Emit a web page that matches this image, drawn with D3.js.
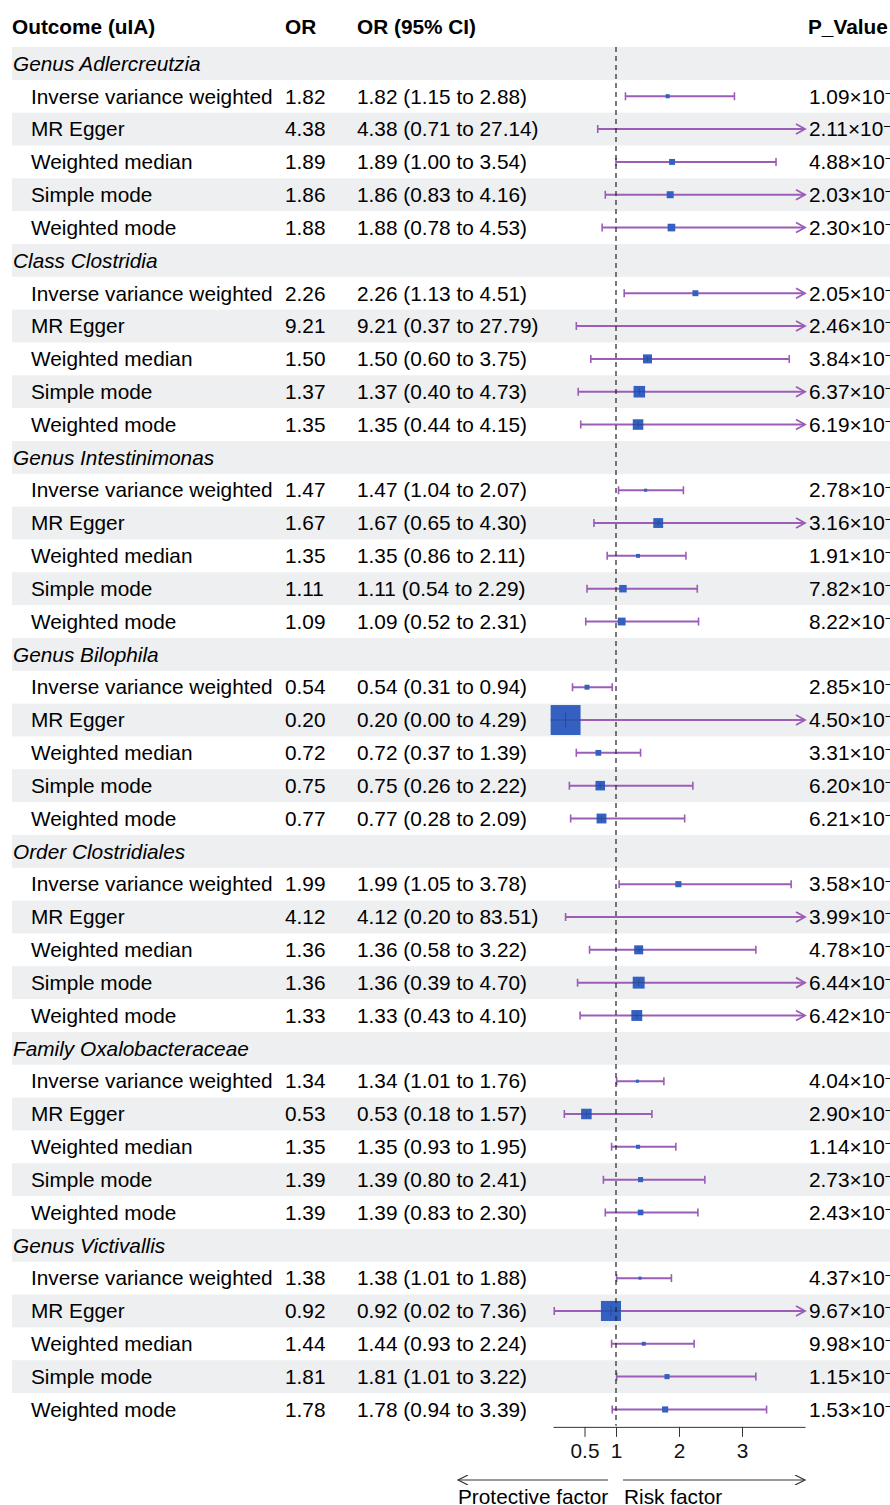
<!DOCTYPE html>
<html>
<head>
<meta charset="utf-8">
<script src="https://cdn.jsdelivr.net/npm/d3@7"></script>
<style>
  body { margin: 0; background: #fff; }
  svg { display: block; font-family: "Liberation Sans", Arial, sans-serif; }
</style>
</head>
<body>
<div id="forest"></div>
<script>
var groups = ["Genus Adlercreutzia", "Class Clostridia", "Genus Intestinimonas", "Genus Bilophila",
              "Order Clostridiales", "Family Oxalobacteraceae", "Genus Victivallis"];
var methods = ["Inverse variance weighted", "MR Egger", "Weighted median", "Simple mode", "Weighted mode"];

// one entry per method row, groups in order
var orEst = [1.82, 4.38, 1.89, 1.86, 1.88,
             2.26, 9.21, 1.50, 1.37, 1.35,
             1.47, 1.67, 1.35, 1.11, 1.09,
             0.54, 0.20, 0.72, 0.75, 0.77,
             1.99, 4.12, 1.36, 1.36, 1.33,
             1.34, 0.53, 1.35, 1.39, 1.39,
             1.38, 0.92, 1.44, 1.81, 1.78];
var ciLow = [1.15, 0.71, 1.00, 0.83, 0.78,
             1.13, 0.37, 0.60, 0.40, 0.44,
             1.04, 0.65, 0.86, 0.54, 0.52,
             0.31, 0.00, 0.37, 0.26, 0.28,
             1.05, 0.20, 0.58, 0.39, 0.43,
             1.01, 0.18, 0.93, 0.80, 0.83,
             1.01, 0.02, 0.93, 1.01, 0.94];
var ciHigh = [2.88, 27.14, 3.54, 4.16, 4.53,
              4.51, 27.79, 3.75, 4.73, 4.15,
              2.07, 4.30, 2.11, 2.29, 2.31,
              0.94, 4.29, 1.39, 2.22, 2.09,
              3.78, 83.51, 3.22, 4.70, 4.10,
              1.76, 1.57, 1.95, 2.41, 2.30,
              1.88, 7.36, 2.24, 3.22, 3.39];
var pMant = ["1.09", "2.11", "4.88", "2.03", "2.30",
             "2.05", "2.46", "3.84", "6.37", "6.19",
             "2.78", "3.16", "1.91", "7.82", "8.22",
             "2.85", "4.50", "3.31", "6.20", "6.21",
             "3.58", "3.99", "4.78", "6.44", "6.42",
             "4.04", "2.90", "1.14", "2.73", "2.43",
             "4.37", "9.67", "9.98", "1.15", "1.53"];
var pExp = [-2, -1, -2, -1, -1,
            -2, -1, -1, -1, -1,
            -2, -1, -1, -1, -1,
            -2, -1, -1, -1, -1,
            -2, -1, -1, -1, -1,
            -2, -1, -1, -1, -1,
            -2, -1, -2, -1, -1];
// standard error estimate, drives box size
var seEst = [0.24, 0.90, 0.35, 0.41, 0.45,
             0.35, 1.20, 0.53, 0.68, 0.62,
             0.18, 0.58, 0.23, 0.44, 0.46,
             0.29, 1.76, 0.34, 0.56, 0.58,
             0.36, 1.50, 0.53, 0.70, 0.64,
             0.18, 0.62, 0.24, 0.30, 0.33,
             0.18, 1.18, 0.23, 0.30, 0.36];
var axisTicks = [0.5, 1, 2, 3];

var W = 890, H = 1505,
    rowH = 32.83,
    top0 = 47,
    fontSize = "20.8px",
    lineCol = "#9b5db6",
    boxCol = "#3461c1",
    shade = "#edeff0";

var rows = [];
groups.forEach(function(g, gi) {
  rows.push({ type: "group", label: g });
  methods.forEach(function(m, mi) {
    rows.push({ type: "item", label: m, k: gi * methods.length + mi });
  });
});

var x = d3.scaleLinear().domain([0, 4]).range([553, 805]);
var y = d3.scaleBand().domain(d3.range(rows.length))
          .range([top0, top0 + rows.length * rowH]);
var box = d3.scaleLinear().domain([0, 1]).range([0, 17]);

var svg = d3.select("#forest").append("svg")
  .attr("width", W)
  .attr("height", H);

var defs = svg.append("defs");
// clip in each row's local coordinates (row centre = 0); only the right side matters
defs.append("clipPath").attr("id", "plotclip")
  .append("rect").attr("x", x(0) - 30).attr("y", -rowH).attr("width", x(4) - x(0) + 30).attr("height", 2 * rowH);

// row shading
svg.selectAll(".band")
  .data(d3.range(rows.length).filter(function(i) { return i % 2 == 0; }))
  .enter().append("rect")
  .attr("x", 12)
  .attr("y", function(i) { return y(i); })
  .attr("width", W - 12)
  .attr("height", y.bandwidth())
  .attr("fill", shade);

// header
var header = svg.append("g").style("font-weight", "bold").style("font-size", fontSize);
header.append("text").attr("x", 12).attr("y", 27).attr("dy", "0.35em").text("Outcome (uIA)");
header.append("text").attr("x", 285).attr("y", 27).attr("dy", "0.35em").text("OR");
header.append("text").attr("x", 357).attr("y", 27).attr("dy", "0.35em").text("OR (95% CI)");
header.append("text").attr("x", 808).attr("y", 27).attr("dy", "0.35em").text("P_Value");

var rowG = svg.selectAll(".row")
  .data(rows)
  .enter().append("g")
  .attr("transform", function(d, i) { return "translate(0," + (y(i) + y.bandwidth() / 2) + ")"; })
  .style("font-size", fontSize);

rowG.filter(function(d) { return d.type == "group"; })
  .append("text")
  .attr("x", 13)
  .attr("dy", "0.35em")
  .style("font-style", "italic")
  .text(function(d) { return d.label; });

var items = rowG.filter(function(d) { return d.type == "item"; });

items.append("text").attr("x", 31).attr("dy", "0.35em").text(function(d) { return d.label; });
items.append("text").attr("x", 285).attr("dy", "0.35em")
  .text(function(d) { return orEst[d.k].toFixed(2); });
items.append("text").attr("x", 357).attr("dy", "0.35em")
  .text(function(d) {
    return orEst[d.k].toFixed(2) + " (" + ciLow[d.k].toFixed(2) + " to " + ciHigh[d.k].toFixed(2) + ")";
  });

var pt = items.append("text").attr("x", 809).attr("dy", "0.35em");
pt.append("tspan").text(function(d) { return pMant[d.k] + "×10"; });
pt.append("tspan").attr("dy", "-0.45em").style("font-size", "13px")
  .text(function(d) { return "\u2212" + Math.abs(pExp[d.k]); });

// CI lines
var marks = items.append("g").attr("clip-path", "url(#plotclip)");
var xmax = x.domain()[1];

marks.append("line")
  .attr("x1", function(d) { return x(Math.max(ciLow[d.k], 0)); })
  .attr("x2", function(d) { return x(Math.min(ciHigh[d.k], xmax)); })
  .attr("stroke", lineCol).attr("stroke-width", 2);

marks.append("line")
  .attr("x1", function(d) { return x(ciLow[d.k]); })
  .attr("x2", function(d) { return x(ciLow[d.k]); })
  .attr("y1", -4).attr("y2", 4)
  .attr("stroke", lineCol).attr("stroke-width", 1.6);

marks.filter(function(d) { return ciHigh[d.k] <= xmax; })
  .append("line")
  .attr("x1", function(d) { return x(ciHigh[d.k]); })
  .attr("x2", function(d) { return x(ciHigh[d.k]); })
  .attr("y1", -4).attr("y2", 4)
  .attr("stroke", lineCol).attr("stroke-width", 1.6);

items.filter(function(d) { return ciHigh[d.k] > xmax; })
  .append("path")
  .attr("d", function() {
    var e = x(xmax);
    return "M" + (e - 9) + ",-5 L" + e + ",0 L" + (e - 9) + ",5";
  })
  .attr("fill", "none").attr("stroke", lineCol).attr("stroke-width", 1.8);

// point boxes
var pts = marks.filter(function(d) { return orEst[d.k] < xmax; });
pts.append("rect")
  .attr("x", function(d) { return x(orEst[d.k]) - box(seEst[d.k]) / 2; })
  .attr("y", function(d) { return -box(seEst[d.k]) / 2; })
  .attr("width", function(d) { return box(seEst[d.k]); })
  .attr("height", function(d) { return box(seEst[d.k]); })
  .attr("fill", boxCol);
pts.filter(function(d) { return box(seEst[d.k]) > 9; })
  .append("path")
  .attr("d", function(d) {
    var cx = x(orEst[d.k]), h = box(seEst[d.k]) / 2;
    return "M" + (cx - h) + ",0H" + (cx + h) + "M" + cx + "," + (-h / 2) + "V" + (h / 2);
  })
  .attr("stroke", "#2a4a9a").attr("stroke-width", 1).attr("fill", "none");

// reference line at OR = 1
svg.append("line")
  .attr("x1", x(1)).attr("x2", x(1))
  .attr("y1", top0).attr("y2", top0 + rows.length * rowH)
  .attr("stroke", "#222").attr("stroke-width", 1.2)
  .attr("stroke-dasharray", "5,4");

// axis
var axisY = top0 + rows.length * rowH + 1;
var axis = svg.append("g")
  .attr("transform", "translate(0," + axisY + ")")
  .call(d3.axisBottom(x).tickValues(axisTicks).tickFormat(d3.format("")).tickSize(10).tickSizeOuter(0).tickPadding(6));
axis.selectAll("text").style("font-size", fontSize).style("font-family", "Liberation Sans, Arial, sans-serif").attr("fill", "#111");
axis.selectAll("line, path").attr("stroke", "#333");

// direction arrows
defs.append("marker").attr("id", "ahead")
  .attr("viewBox", "0 0 10 10").attr("refX", 10).attr("refY", 5)
  .attr("markerWidth", 14).attr("markerHeight", 10).attr("markerUnits", "userSpaceOnUse")
  .attr("orient", "auto")
  .append("path").attr("d", "M0,0 L10,5 L0,10").attr("fill", "none").attr("stroke", "#333").attr("stroke-width", 1.2);

svg.append("line").attr("x1", x(1) - 8).attr("x2", 458).attr("y1", 1480).attr("y2", 1480)
  .attr("stroke", "#333").attr("stroke-width", 1).attr("marker-end", "url(#ahead)");
svg.append("line").attr("x1", x(1) + 7).attr("x2", x(4)).attr("y1", 1480).attr("y2", 1480)
  .attr("stroke", "#333").attr("stroke-width", 1).attr("marker-end", "url(#ahead)");

svg.append("text").attr("x", 458).attr("y", 1504).style("font-size", fontSize).text("Protective factor");
svg.append("text").attr("x", 624).attr("y", 1504).style("font-size", fontSize).text("Risk factor");
</script>
</body>
</html>
